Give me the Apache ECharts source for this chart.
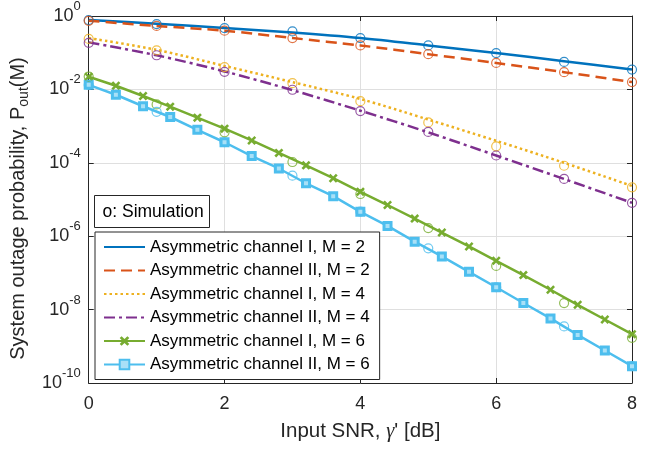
<!DOCTYPE html>
<html>
<head>
<meta charset="utf-8">
<script src="https://cdn.jsdelivr.net/npm/echarts@6/dist/echarts.min.js"></script>
<style>html,body{margin:0;padding:0;background:#fff}#c{width:660px;height:452px}</style>
</head>
<body>
<div id="c"></div>
<script>
// ---- data ----
const names = [
  'Asymmetric channel I, M = 2',
  'Asymmetric channel II, M = 2',
  'Asymmetric channel I, M = 4',
  'Asymmetric channel II, M = 4',
  'Asymmetric channel I, M = 6',
  'Asymmetric channel II, M = 6'
];
const simLabel = 'o: Simulation';
const xInt = [0, 1, 2, 3, 4, 5, 6, 7, 8];
const xFine = [0, 0.4, 0.8, 1.2, 1.6, 2.0, 2.4, 2.8, 3.2, 3.6, 4.0, 4.4, 4.8, 5.2, 5.6, 6.0, 6.4, 6.8, 7.2, 7.6, 8.0];

// theory curves (M = 2, 4) at integer SNR
const thM2I  = [0.776, 0.617, 0.468, 0.355, 0.251, 0.158, 0.0977, 0.0589, 0.0347];
const thM2II = [0.741, 0.537, 0.398, 0.251, 0.158, 0.0912, 0.0525, 0.0295, 0.0158];
const thM4I  = [0.251, 0.120, 0.0437, 0.0158, 5.50e-3, 1.51e-3, 3.98e-4, 1.00e-4, 2.34e-5];
const thM4II = [0.191, 0.0851, 0.0309, 9.55e-3, 2.63e-3, 6.76e-4, 1.58e-4, 3.63e-5, 8.13e-6];
// theory curves (M = 6) at 0.4 dB steps
const thM6I  = [2.22e-2, 1.26e-2, 6.61e-3, 3.39e-3, 1.70e-3, 8.51e-4, 4.07e-4, 1.86e-4, 8.51e-5, 3.80e-5, 1.62e-5,
                7.08e-6, 3.02e-6, 1.26e-6, 5.25e-7, 2.14e-7, 8.71e-8, 3.47e-8, 1.35e-8, 5.37e-9, 2.14e-9];
const thM6II = [1.33e-2, 7.16e-3, 3.48e-3, 1.77e-3, 7.94e-4, 3.63e-4, 1.53e-4, 7.00e-5, 2.77e-5, 1.23e-5, 4.62e-6,
                1.91e-6, 7.08e-7, 2.82e-7, 1.07e-7, 4.07e-8, 1.51e-8, 5.75e-9, 2.04e-9, 7.67e-10, 2.88e-10];

// simulation points at integer SNR
const simM2I  = [0.776, 0.603, 0.468, 0.380, 0.251, 0.158, 0.0977, 0.0562, 0.0347];
const simM2II = [0.741, 0.537, 0.398, 0.251, 0.158, 0.0912, 0.0525, 0.0295, 0.0158];
const simM4I  = [0.237, 0.115, 0.0407, 0.0148, 4.79e-3, 1.26e-3, 2.82e-4, 8.32e-5, 2.14e-5];
const simM4II = [0.186, 0.0851, 0.0302, 9.77e-3, 2.57e-3, 6.92e-4, 1.58e-4, 3.63e-5, 8.13e-6];
const simM6I  = [2.24e-2, 3.89e-3, 6.76e-4, 1.05e-4, 1.41e-5, 1.66e-6, 1.55e-7, 1.51e-8, 1.70e-9];
const simM6II = [1.32e-2, 2.45e-3, 3.63e-4, 4.47e-5, 4.68e-6, 4.68e-7, 4.07e-8, 3.47e-9, 2.88e-10];

const xTicks = [0, 2, 4, 6, 8];
const yMin = 1e-10, yMax = 1;

// ---- styling ----
const FONT = '"Liberation Sans", Arial, Helvetica, sans-serif';
const colors = ['#0072BD', '#D95319', '#EDB120', '#7E2F8E', '#77AC30', '#4DBEEE'];
const AXC = '#262626';
const GRIDC = '#dfdfdf';
const crossPath = 'path://M0,2 L2,0 L5,3 L8,0 L10,2 L7,5 L10,8 L8,10 L5,7 L2,10 L0,8 L3,5 Z';

const zip = (xs, ys) => xs.map((x, i) => [x, ys[i]]);

function lineSeries(name, xs, ys, color, type, extra) {
  return Object.assign({
    name: name, type: 'line', data: zip(xs, ys),
    xAxisIndex: 0, yAxisIndex: 0,
    showSymbol: false, symbol: 'none',
    lineStyle: { color: color, width: 2.5, type: type },
    itemStyle: { color: color },
    animation: false, z: 3
  }, extra || {});
}
function simSeries(idx, ys) {
  return {
    name: 'sim' + idx, type: 'scatter', data: zip(xInt, ys),
    xAxisIndex: 0, yAxisIndex: 0,
    symbol: 'circle', symbolSize: 9,
    itemStyle: { color: 'rgba(0,0,0,0)', borderColor: colors[idx], borderWidth: 1.2 },
    animation: false, z: 4
  };
}

const series = [
  lineSeries(names[0], xInt, thM2I, colors[0], 'solid', { smooth: 0.3 }),
  lineSeries(names[1], xInt, thM2II, colors[1], [11, 6], { smooth: 0.3 }),
  lineSeries(names[2], xInt, thM4I, colors[2], [2.5, 3], { smooth: 0.3 }),
  lineSeries(names[3], xInt, thM4II, colors[3], [11, 4, 3, 4], { smooth: 0.3 }),
  lineSeries(names[4], xFine, thM6I, colors[4], 'solid', {
    showSymbol: true, symbol: crossPath, symbolSize: 9,
    itemStyle: { color: colors[4] }
  }),
  lineSeries(names[5], xFine, thM6II, colors[5], 'solid', {
    showSymbol: true, symbol: 'rect', symbolSize: 7,
    itemStyle: { color: '#a9e0f7', borderColor: colors[5], borderWidth: 3 }
  }),
  simSeries(0, simM2I), simSeries(1, simM2II), simSeries(2, simM4I),
  simSeries(3, simM4II), simSeries(4, simM6I), simSeries(5, simM6II)
];

// legend entries: line-only entries hide the symbol
const legendData = names.map((n, i) => i < 4
  ? { name: n, itemStyle: { color: 'rgba(0,0,0,0)', borderWidth: 0, opacity: 0 } }
  : { name: n });

const chart = echarts.init(document.getElementById('c'), null, { renderer: 'canvas' });
chart.setOption({
  backgroundColor: '#ffffff',
  textStyle: { fontFamily: FONT },
  grid: { left: 85, right: 28, top: 10, bottom: 69 },
  xAxis: [{
    type: 'value', min: xTicks[0], max: xTicks[xTicks.length - 1], interval: 2,
    position: 'bottom',
    axisLine: { show: true, onZero: false, lineStyle: { color: AXC, width: 1 } },
    axisTick: { show: true, inside: true, length: 5, lineStyle: { color: AXC } },
    axisLabel: { color: '#262626', fontSize: 18, fontFamily: FONT, margin: 12 },
    splitLine: { show: true, lineStyle: { color: GRIDC, width: 1 } },
    name: '{m|Input SNR, }{g|\u03B3}{m|\' [dB]}',
    nameLocation: 'middle', nameGap: 38,
    nameTextStyle: {
      color: '#262626',
      rich: {
        m: { fontSize: 20.5, fontFamily: FONT, color: '#262626' },
        g: { fontSize: 20.5, fontFamily: '"Liberation Serif", "DejaVu Serif", serif', fontStyle: 'italic', color: '#262626' }
      }
    }
  }, {
    type: 'value', min: xTicks[0], max: xTicks[xTicks.length - 1], interval: 2,
    position: 'top',
    axisLine: { show: true, onZero: false, lineStyle: { color: AXC, width: 1 } },
    axisTick: { show: true, inside: true, length: 5, lineStyle: { color: AXC } },
    axisLabel: { show: false }, splitLine: { show: false }
  }],
  yAxis: [{
    type: 'log', logBase: 10, min: yMin, max: yMax, interval: 2,
    position: 'left',
    axisLine: { show: true, onZero: false, lineStyle: { color: AXC, width: 1 } },
    axisTick: { show: true, inside: true, length: 5, lineStyle: { color: AXC } },
    minorTick: { show: false },
    axisLabel: {
      margin: 8,
      formatter: function (v) {
        const e = Math.round(Math.log10(v));
        return '{b|10}{s|' + e + '}';
      },
      rich: {
        b: { fontSize: 18, lineHeight: 18, verticalAlign: 'bottom', fontFamily: FONT, color: '#262626' },
        s: { fontSize: 13, lineHeight: 13, padding: [0, 0, 12, 0], verticalAlign: 'bottom', fontFamily: FONT, color: '#262626' }
      }
    },
    splitLine: { show: true, lineStyle: { color: GRIDC, width: 1 } },
    name: '{m|System outage probability, P}{sub|out}{m|(M)}',
    nameLocation: 'middle', nameGap: 37, nameRotate: 90,
    nameTextStyle: {
      color: '#262626',
      padding: [0, 18, 0, 0],
      rich: {
        m: { fontSize: 20, lineHeight: 20, verticalAlign: 'top', fontFamily: FONT, color: '#262626' },
        sub: { fontSize: 14, lineHeight: 14, padding: [9, 0, 0, 0], verticalAlign: 'top', fontFamily: FONT, color: '#262626' }
      }
    }
  }, {
    type: 'log', logBase: 10, min: yMin, max: yMax, interval: 2,
    position: 'right',
    axisLine: { show: true, onZero: false, lineStyle: { color: AXC, width: 1 } },
    axisTick: { show: true, inside: true, length: 5, lineStyle: { color: AXC } },
    minorTick: { show: false },
    axisLabel: { show: false }, splitLine: { show: false }
  }],
  legend: {
    data: legendData,
    orient: 'vertical', left: 95, top: 232,
    itemWidth: 41, itemHeight: 12, itemGap: 3.5,
    padding: [5, 10, 5, 8],
    backgroundColor: '#ffffff', borderColor: AXC, borderWidth: 1, borderRadius: 0,
    textStyle: { fontSize: 17, lineHeight: 20, color: '#000', fontFamily: FONT },
    selectedMode: false
  },
  graphic: [{
    type: 'group', left: 94, top: 195, z: 100,
    children: [
      { type: 'rect', shape: { x: 0, y: 0, width: 115, height: 32 },
        style: { fill: '#ffffff', stroke: AXC, lineWidth: 1 } },
      { type: 'text', x: 8, y: 17,
        style: { text: simLabel, fontSize: 17.5, fontFamily: FONT, fill: '#000', verticalAlign: 'middle', align: 'left' } }
    ]
  }],
  series: series
});
</script>
</body>
</html>
